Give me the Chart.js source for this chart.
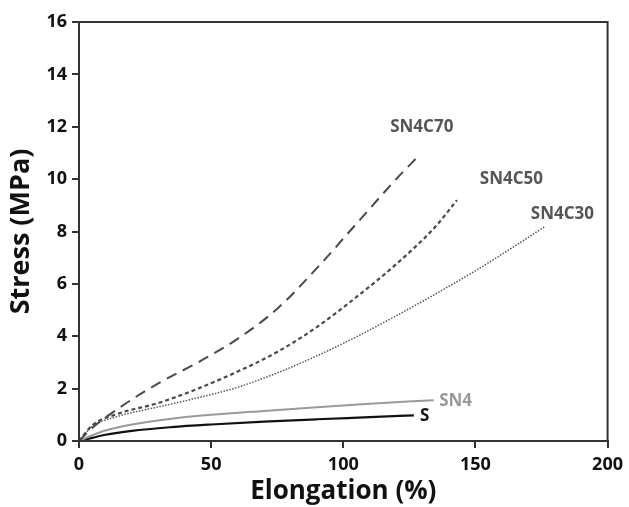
<!DOCTYPE html>
<html>
<head>
<meta charset="utf-8">
<script src="https://cdn.jsdelivr.net/npm/chart.js@4.4.1/dist/chart.umd.min.js"></script>
<style>
  html, body { margin: 0; padding: 0; background: #ffffff; }
  #wrap { width: 629px; height: 507px; position: relative; }
</style>
</head>
<body>
<div id="wrap"><canvas id="c" width="629" height="507"></canvas></div>
<script>
// ---- data ----
const seriesNames = ["SN4C70", "SN4C50", "SN4C30", "SN4", "S"];

const sn4c70X = [0, 5, 15, 30, 45, 60, 75, 90, 105, 120, 128.6];
const sn4c70Y = [0, 0.5, 1.25, 2.2, 3.0, 3.9, 5.05, 6.6, 8.3, 10.0, 10.9];

const sn4c50X = [0, 5, 15, 30, 45, 60, 75, 90, 105, 120, 135, 143];
const sn4c50Y = [0, 0.6, 1.05, 1.45, 2.0, 2.65, 3.4, 4.35, 5.5, 6.75, 8.2, 9.2];

const sn4c30X = [0, 5, 15, 30, 45, 60, 75, 90, 105, 120, 135, 150, 165, 176.3];
const sn4c30Y = [0, 0.55, 0.95, 1.3, 1.65, 2.05, 2.6, 3.25, 3.98, 4.78, 5.62, 6.5, 7.45, 8.19];

const sn4X = [0, 5, 10, 20, 35, 50, 70, 90, 110, 134.2];
const sn4Y = [0, 0.22, 0.4, 0.63, 0.85, 1.0, 1.15, 1.29, 1.42, 1.56];

const sX = [0, 5, 10, 20, 35, 50, 70, 90, 110, 126.7];
const sY = [0, 0.12, 0.24, 0.39, 0.53, 0.63, 0.74, 0.83, 0.91, 0.98];

const xTicks = [0, 50, 100, 150, 200];
const yTicks = [0, 2, 4, 6, 8, 10, 12, 14, 16];

// label anchor positions (data units)
const labelX = [129.7, 163.6, 182.9, 142.5, 130.8];
const labelY = [12.0, 9.98, 8.68, 1.52, 0.95];

// ---- build ----
function pts(xs, ys) { return xs.map((x, i) => ({ x: x, y: ys[i] })); }

const styles = [
  { color: "#4a4a4a", width: 2, dash: [11, 7] },
  { color: "#4a4a4a", width: 2.2, dash: [4, 3] },
  { color: "#555555", width: 1.5, dash: [1.5, 1.5] },
  { color: "#9a9a9a", width: 2, dash: [] },
  { color: "#111111", width: 2.2, dash: [] }
];
const labelColors = ["#555555", "#555555", "#555555", "#999999", "#111111"];
const allData = [pts(sn4c70X, sn4c70Y), pts(sn4c50X, sn4c50Y), pts(sn4c30X, sn4c30Y), pts(sn4X, sn4Y), pts(sX, sY)];

const datasets = allData.map((d, i) => ({
  label: seriesNames[i],
  data: d,
  showLine: true,
  borderColor: styles[i].color,
  borderWidth: styles[i].width,
  borderDash: styles[i].dash,
  pointRadius: 0,
  cubicInterpolationMode: "monotone",
  fill: false
}));

const frameAndLabels = {
  id: "frameAndLabels",
  afterDatasetsDraw(chart) {
    const ctx = chart.ctx;
    const a = chart.chartArea;
    ctx.save();
    ctx.strokeStyle = "#333333";
    ctx.lineWidth = 2;
    ctx.strokeRect(a.left, a.top, a.right - a.left, a.bottom - a.top);
    ctx.font = "bold 17px 'Open Sans', sans-serif";
    ctx.textAlign = "center";
    ctx.textBaseline = "middle";
    const xs = chart.scales.x, ys = chart.scales.y;
    seriesNames.forEach((n, i) => {
      ctx.fillStyle = labelColors[i];
      ctx.fillText(n, xs.getPixelForValue(labelX[i]), ys.getPixelForValue(labelY[i]));
    });
    ctx.restore();
  }
};

new Chart(document.getElementById("c"), {
  type: "scatter",
  data: { datasets: datasets },
  options: {
    responsive: false,
    animation: false,
    layout: { padding: { top: 22, right: 20, left: 0, bottom: 0 } },
    plugins: { legend: { display: false }, tooltip: { enabled: false } },
    scales: {
      x: {
        type: "linear", min: 0, max: 200,
        afterBuildTicks: (s) => { s.ticks = xTicks.map(v => ({ value: v })); },
        afterFit: (s) => { s.height = 66; },
        grid: { drawOnChartArea: false, drawTicks: true, tickLength: 7, color: "#333333", lineWidth: 2 },
        border: { display: true, color: "#333333", width: 2 },
        ticks: { color: "#111111", font: { family: "'Open Sans', sans-serif", size: 18, weight: "bold" }, padding: 6, maxRotation: 0 },
        title: { display: true, text: "Elongation (%)", color: "#111111", font: { family: "'Open Sans', sans-serif", size: 26, weight: "bold" }, padding: { top: 0, bottom: 0 } }
      },
      y: {
        type: "linear", min: 0, max: 16,
        afterBuildTicks: (s) => { s.ticks = yTicks.map(v => ({ value: v })); },
        afterFit: (s) => { s.width = 79; },
        grid: { drawOnChartArea: false, drawTicks: true, tickLength: 7, color: "#333333", lineWidth: 2 },
        border: { display: true, color: "#333333", width: 2 },
        ticks: { color: "#111111", font: { family: "'Open Sans', sans-serif", size: 18, weight: "bold" }, padding: 5 },
        title: { display: true, text: "Stress (MPa)", color: "#111111", font: { family: "'Open Sans', sans-serif", size: 27, weight: "bold" }, padding: { top: 5, bottom: 0 } }
      }
    }
  },
  plugins: [frameAndLabels]
});
</script>
</body>
</html>
